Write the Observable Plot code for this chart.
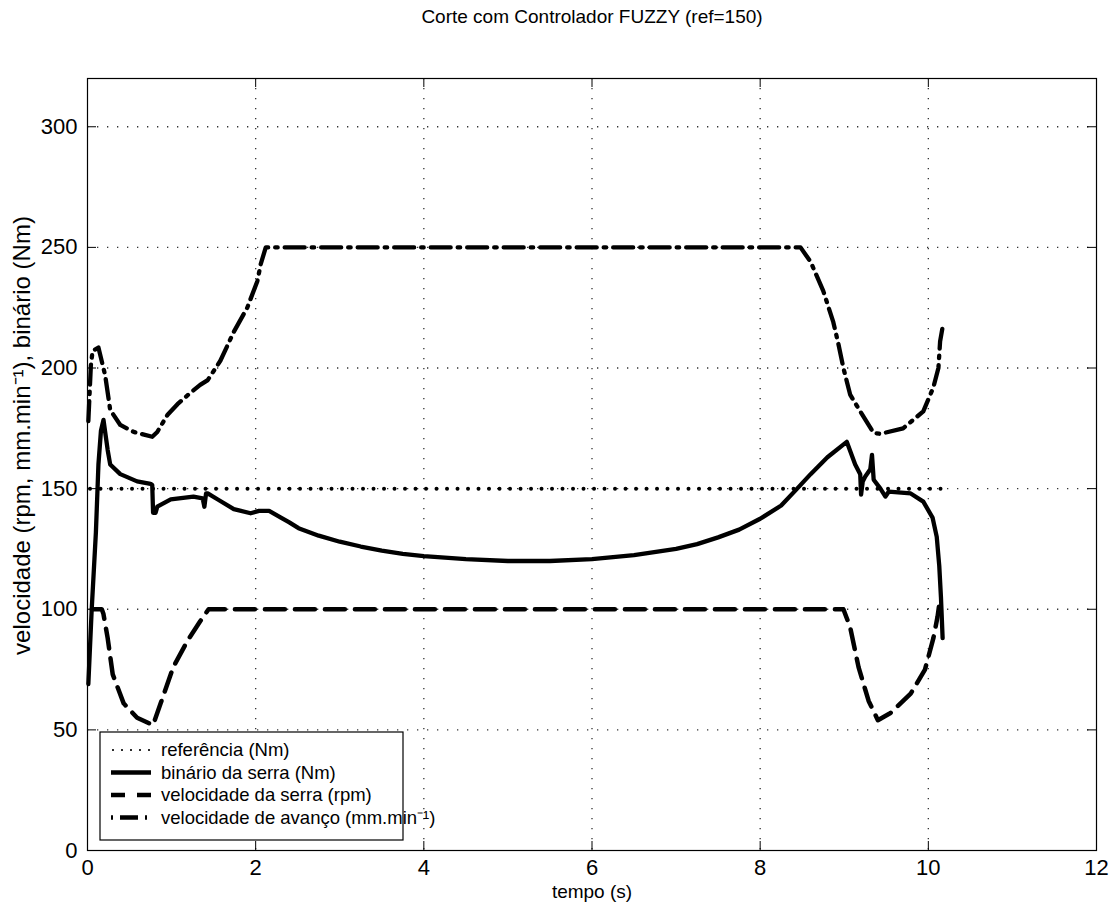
<!DOCTYPE html>
<html><head><meta charset="utf-8">
<script src="https://cdn.jsdelivr.net/npm/d3@7"></script>
<script src="https://cdn.jsdelivr.net/npm/@observablehq/plot@0.6"></script>
<style>body{margin:0;background:#fff}</style>
</head><body><div id="chart"></div>
<script>
// ---- data ----
const refT = [0.03, 10.15];
const refV = [150, 150];

const binT = [0.01,0.05,0.10,0.13,0.16,0.19,0.24,0.27,0.39,0.59,0.75,0.77,0.78,0.81,0.83,0.99,1.26,1.37,1.39,1.41,1.43,1.55,1.74,1.94,2.04,2.16,2.30,2.40,2.51,2.75,3.00,3.25,3.50,3.75,4.00,4.50,5.00,5.50,6.00,6.50,7.00,7.25,7.50,7.75,8.00,8.25,8.44,8.60,8.80,9.03,9.13,9.19,9.20,9.22,9.25,9.31,9.33,9.35,9.43,9.49,9.53,9.79,9.94,10.05,10.10,10.13,10.15,10.17];
const binV = [69,100,132,160,174,178.5,166,160,156,153,152,151.5,140,140,142.5,145.5,146.7,146,142.5,148,148,145.5,141.5,139.8,140.8,140.8,138,136,133.6,130.5,128,126,124.3,123,122,120.8,120,120,120.8,122.4,125,127,129.8,133,137.5,143,150,156,163,169.4,160,156,147.5,153,155,158,164,153.7,150,146.7,148.8,148,144.6,138,130,118,105,88];

const serraT = [0.05,0.17,0.19,0.24,0.30,0.43,0.59,0.78,0.87,1.02,1.19,1.34,1.44,8.99,9.07,9.17,9.29,9.40,9.55,9.79,9.96,10.06,10.11,10.13];
const serraV = [100,100,98,88,73,61,55,52,61,76,87,95,100,100,92.6,76,62,54,57,65,75,88,97,102];

const avancoT = [0.01,0.04,0.06,0.13,0.21,0.27,0.39,0.55,0.77,0.83,0.95,1.07,1.20,1.34,1.43,1.58,1.74,1.90,2.02,2.06,2.12,8.48,8.60,8.75,8.87,8.93,8.99,9.07,9.19,9.35,9.43,9.70,9.94,10.06,10.12,10.14,10.17];
const avancoV = [178,201,207,208.5,197,182.6,176.4,173.5,171.5,173.5,180.5,185,189,193,195,203,215,225,236,243,250,250,244,232,219,210,200,189,182,173,172.7,175,182,192,200,211,217];

const xTicks = [0,2,4,6,8,10,12];
const yTicks = [0,50,100,150,200,250,300];
const titleText = "Corte com Controlador FUZZY (ref=150)";
const xLabel = "tempo (s)";
const yLabel = "velocidade (rpm, mm.min\u207B\u00B9), binário (Nm)";
const legendLabels = ["referência (Nm)", "binário da serra (Nm)", "velocidade da serra (rpm)", "velocidade de avanço (mm.min\u207B\u00B9)"];

// ---- styles ----
const W = 1114, H = 906, mL = 87, mR = 18, mT = 78, mB = 56;
const plotW = W - mL - mR, plotH = H - mT - mB, tk = 9;
const FONT = "'Liberation Sans', Arial, Helvetica, sans-serif";
const styles = [
  {stroke: "black", strokeWidth: 4, strokeDasharray: "0 10.5", strokeLinecap: "round"},
  {stroke: "black", strokeWidth: 4.3, strokeLinejoin: "round"},
  {stroke: "black", strokeWidth: 4.5, strokeDasharray: "20 10"},
  {stroke: "black", strokeWidth: 4.3, strokeDasharray: "20 7 2.5 7"}
];
const zip = (t, v) => t.map((d, i) => ({t: d, v: v[i]}));

const plot = Plot.plot({
  width: W, height: H,
  marginLeft: mL, marginRight: mR, marginTop: mT, marginBottom: mB,
  style: {fontFamily: FONT, background: "white", color: "black"},
  x: {domain: [0, 12]},
  y: {domain: [0, 320]},
  marks: [
    Plot.ruleX(xTicks.slice(1, -1), {stroke: "#333", strokeWidth: 1.3, strokeDasharray: "1.3 8.7"}),
    Plot.ruleY(yTicks.slice(1), {stroke: "#333", strokeWidth: 1.3, strokeDasharray: "1.3 8.7"}),
    Plot.line(zip(refT, refV), {x: "t", y: "v", ...styles[0]}),
    Plot.line(zip(serraT, serraV), {x: "t", y: "v", ...styles[2]}),
    Plot.line(zip(avancoT, avancoV), {x: "t", y: "v", ...styles[3]}),
    Plot.line(zip(binT, binV), {x: "t", y: "v", ...styles[1]}),
    Plot.frame({stroke: "black", strokeWidth: 1.2}),
    Plot.ruleX(xTicks, {stroke: "black", insetTop: plotH - tk}),
    Plot.ruleX(xTicks, {stroke: "black", insetBottom: plotH - tk}),
    Plot.ruleY(yTicks, {stroke: "black", insetRight: plotW - tk}),
    Plot.ruleY(yTicks, {stroke: "black", insetLeft: plotW - tk}),
    Plot.axisX(xTicks, {tickSize: 0, tickPadding: 9, fontSize: 22, label: null, tickFormat: d => String(d)}),
    Plot.axisY(yTicks, {tickSize: 0, tickPadding: 10, fontSize: 22, label: null, tickFormat: d => String(d)}),
    Plot.text([titleText], {frameAnchor: "top", dy: -62, lineAnchor: "middle", fontSize: 19, text: d => d}),
    Plot.text([xLabel], {frameAnchor: "bottom", dy: 41, lineAnchor: "middle", fontSize: 19, text: d => d}),
    Plot.text([yLabel], {frameAnchor: "left", dx: -65, dy: -29, rotate: -90, textAnchor: "middle", lineAnchor: "middle", fontSize: 24, text: d => d})
  ]
});

// legend box (drawn on top of the plot)
const svg = d3.select(plot);
const lg = svg.append("g").attr("font-family", FONT).attr("font-size", 18.5).attr("text-anchor", "start");
lg.append("rect").attr("x", 100).attr("y", 732).attr("width", 303).attr("height", 108)
  .attr("fill", "white").attr("stroke", "black").attr("stroke-width", 1.2);
legendLabels.forEach((lab, i) => {
  const y = 750 + i * 22.5;
  const s = styles[i];
  const ln = lg.append("line").attr("x1", 111).attr("x2", 151).attr("y1", y).attr("y2", y)
    .attr("stroke", "black").attr("stroke-width", i === 0 ? 2.2 : s.strokeWidth);
  if (i === 0) ln.attr("stroke-dasharray", "0 9").attr("stroke-linecap", "round").attr("x1", 113);
  if (i === 2) ln.attr("stroke-dasharray", "14 12").attr("x1", 111);
  if (i === 3) ln.attr("stroke-dasharray", "2 7 18 7 2 20").attr("x1", 111);
  lg.append("text").attr("x", 161).attr("y", y).attr("dy", "0.35em").attr("fill", "black").text(lab);
});

document.getElementById("chart").appendChild(plot);
</script>
</body></html>
